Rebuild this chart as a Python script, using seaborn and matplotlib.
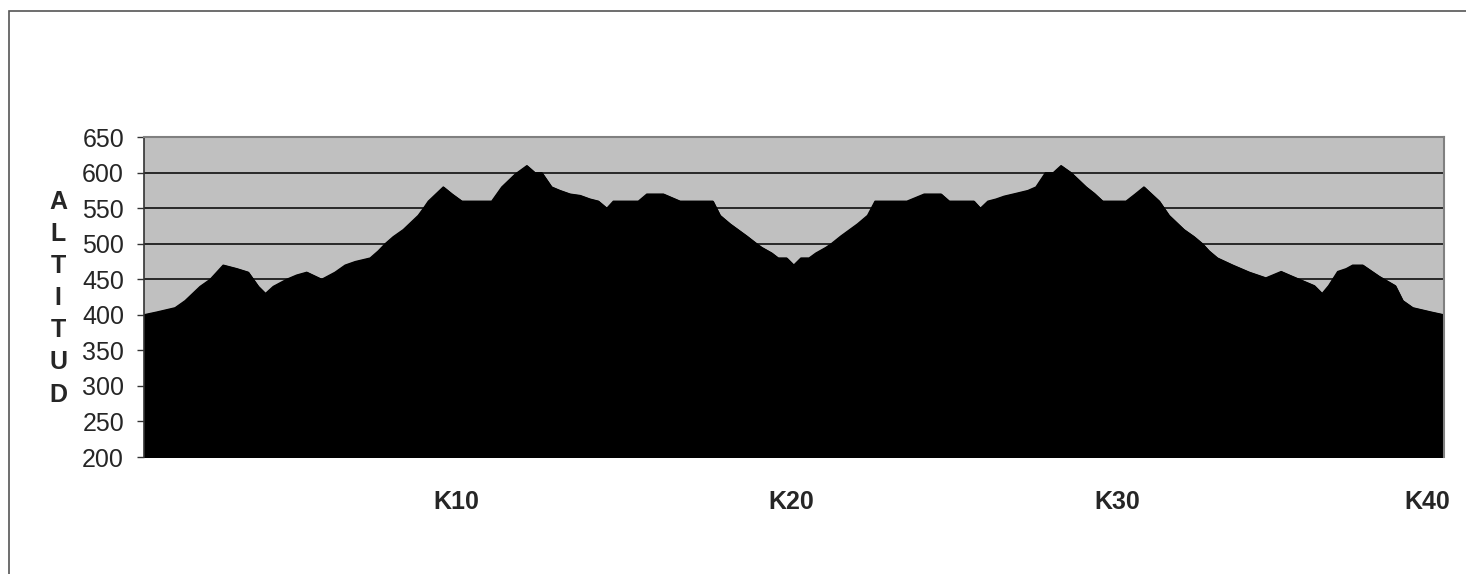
import pandas as pd
import matplotlib
matplotlib.use("Agg")
import matplotlib.pyplot as plt
import seaborn as sns
from matplotlib.patches import Rectangle

# Altitude profile (km along the course, metres)
km = [0.00, 0.41, 0.97, 1.28, 1.74, 2.05, 2.45, 2.87, 3.22, 3.53, 3.75, 3.99,
      4.40, 4.71, 5.02, 5.48, 5.89, 6.20, 6.51, 6.97, 7.22, 7.43, 7.68, 7.99,
      8.45, 8.61, 8.76, 9.22, 9.49, 9.79, 10.71, 11.02, 11.43, 11.79, 12.04,
      12.25, 12.55, 12.81, 13.12, 13.43, 13.73, 13.99, 14.25, 14.45, 15.22,
      15.48, 15.99, 16.50, 17.51, 17.73, 18.04, 18.55, 18.86, 19.01, 19.32,
      19.52, 19.78, 20.00, 20.22, 20.47, 20.68, 20.99, 21.15, 21.45, 21.96,
      22.27, 22.50, 23.48, 24.01, 24.53, 24.78, 25.54, 25.74, 25.97, 26.22,
      26.47, 26.84, 27.20, 27.45, 27.74, 27.98, 28.22, 28.53, 28.99, 29.24,
      29.50, 30.22, 30.50, 30.77, 31.24, 31.39, 31.54, 32.00, 32.31, 32.57,
      32.77, 33.03, 33.50, 34.01, 34.52, 34.99, 35.29, 36.01, 36.25, 36.45,
      36.73, 36.99, 37.19, 37.50, 38.01, 38.50, 38.73, 39.04, 39.60, 40.00]
altitude = [400, 404, 410, 420, 440, 450, 470, 465, 460, 440, 430, 440,
            450, 456, 460, 450, 460, 470, 475, 480, 490, 500, 510, 520,
            540, 550, 560, 580, 570, 560, 560, 580, 598, 610, 600,
            600, 580, 575, 570, 568, 563, 560, 550, 560, 560,
            570, 570, 560, 560, 540, 528, 511, 500, 495, 487,
            480, 480, 470, 480, 480, 487, 495, 500, 511, 528,
            540, 560, 560, 570, 570, 560, 560, 550, 560, 563,
            567, 571, 575, 580, 600, 600, 610, 600, 580, 571,
            560, 560, 570, 580, 560, 550, 540, 520, 510, 500,
            490, 480, 470, 460, 452, 461, 455, 441, 430, 441,
            461, 465, 470, 470, 454, 441, 420, 410, 404, 400]

tick_pos = [9.63, 19.92, 29.94, 39.49]
tick_labels = ["K10", "K20", "K30", "K40"]
y_ticks = list(range(200, 651, 50))

df = pd.DataFrame({"km": km, "altitude": altitude})

sns.set_style("white")
plt.rcParams["font.family"] = ["Liberation Sans", "DejaVu Sans"]

fig = plt.figure(figsize=(14.66, 5.74), dpi=100)
ax = fig.add_axes([0.0979, 0.2038, 0.8871, 0.557])

# outer chart frame (right and bottom edges run off the image)
fig.patches.append(Rectangle((9 / 1466, -0.05), 1.05, 1.05 - 11 / 574,
                             transform=fig.transFigure, fill=False,
                             edgecolor="#555555", linewidth=1.2))

ax.set_facecolor("#c0c0c0")
ax.set_axisbelow(True)
ax.yaxis.grid(True, color="black", linewidth=1.1)
ax.xaxis.grid(False)

sns.lineplot(data=df, x="km", y="altitude", color="black", linewidth=1, ax=ax)
ax.fill_between(df["km"], df["altitude"], 200, color="black", zorder=2)

ax.set_xlim(0, 40)
ax.set_ylim(200, 650)
ax.set_yticks(y_ticks)
ax.set_yticklabels([str(v) for v in y_ticks], fontsize=18)
ax.set_xticks(tick_pos)
ax.set_xticklabels(tick_labels, fontsize=18, fontweight="bold")
ax.tick_params(axis="x", length=0, pad=24)
ax.tick_params(axis="y", length=5, width=1, color="#333333", left=True, pad=9)

ax.set_xlabel("")
ax.set_ylabel("A\nL\nT\nI\nT\nU\nD", rotation=0, fontsize=18,
              fontweight="bold", va="center", ha="center", linespacing=1.43)
ax.yaxis.set_label_coords(-0.0657, 0.497)

for side in ["top", "right"]:
    ax.spines[side].set_color("#808080")
    ax.spines[side].set_linewidth(1.5)
ax.spines["left"].set_color("#333333")
ax.spines["left"].set_linewidth(1.2)
ax.spines["bottom"].set_visible(False)

plt.savefig("out.png", dpi=100)
